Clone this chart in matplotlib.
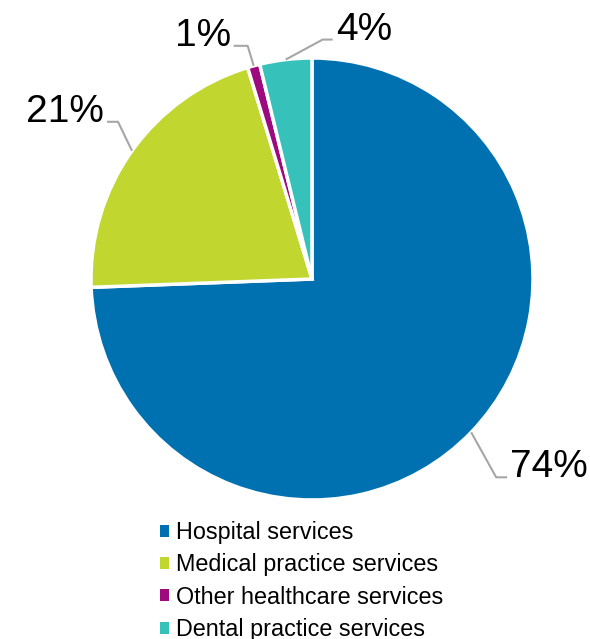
import numpy as np
import matplotlib
matplotlib.use("Agg")
import matplotlib.pyplot as plt

# data
categories = ["Hospital services", "Medical practice services",
              "Other healthcare services", "Dental practice services"]
shares = [74.4, 20.9, 0.9, 3.8]
pct_labels = ["74%", "21%", "1%", "4%"]
colors = ["#0071B0", "#C2D630", "#9C0A7E", "#36C2BA"]

plt.rcParams['font.family'] = ['Liberation Sans', 'DejaVu Sans']

W, H = 590, 639
fig = plt.figure(figsize=(W / 100, H / 100), dpi=100)
ax = fig.add_axes([0, 0, 1, 1])

cx, cy, R = 312, H - 279, 221
wedges, _ = ax.pie(shares, colors=colors, startangle=90, counterclock=False,
                   center=(cx, cy), radius=R, frame=True,
                   wedgeprops=dict(edgecolor='white', linewidth=2.5))
ax.set_xlim(0, W)
ax.set_ylim(0, H)
ax.set_aspect('equal')
ax.axis('off')

# leader lines: elbow offset from the wedge edge (px) and horizontal run (px)
elbow_off = [(25, -45), (-14, 29), (-6, 20), (37, 20)]
hrun = [11, -11, -14, 10]
for w, lab, (ex, ey), hl in zip(wedges, pct_labels, elbow_off, hrun):
    mid = np.deg2rad((w.theta1 + w.theta2) / 2)
    x0, y0 = cx + R * np.cos(mid), cy + R * np.sin(mid)
    x1, y1 = x0 + ex, y0 + ey
    x2 = x1 + hl
    side = 1 if hl > 0 else -1
    ax.plot([x0, x1, x2], [y0, y1, y1], color='#A6A6A6', lw=1.5,
            solid_capstyle='butt', zorder=1)
    ax.text(x2 + side * 3, y1, lab, ha='left' if side > 0 else 'right',
            va='baseline', fontsize=28, color='black')

leg = ax.legend(wedges, categories, loc='upper left',
                bbox_to_anchor=(160 / W, 1 - 521 / H), frameon=False,
                fontsize=16.8, handlelength=0.4, handleheight=0.4,
                handletextpad=0.3, labelspacing=0.4, borderpad=0,
                borderaxespad=0)
for h in leg.legend_handles:
    h.set_edgecolor('none')

fig.savefig("out.png", dpi=100)
